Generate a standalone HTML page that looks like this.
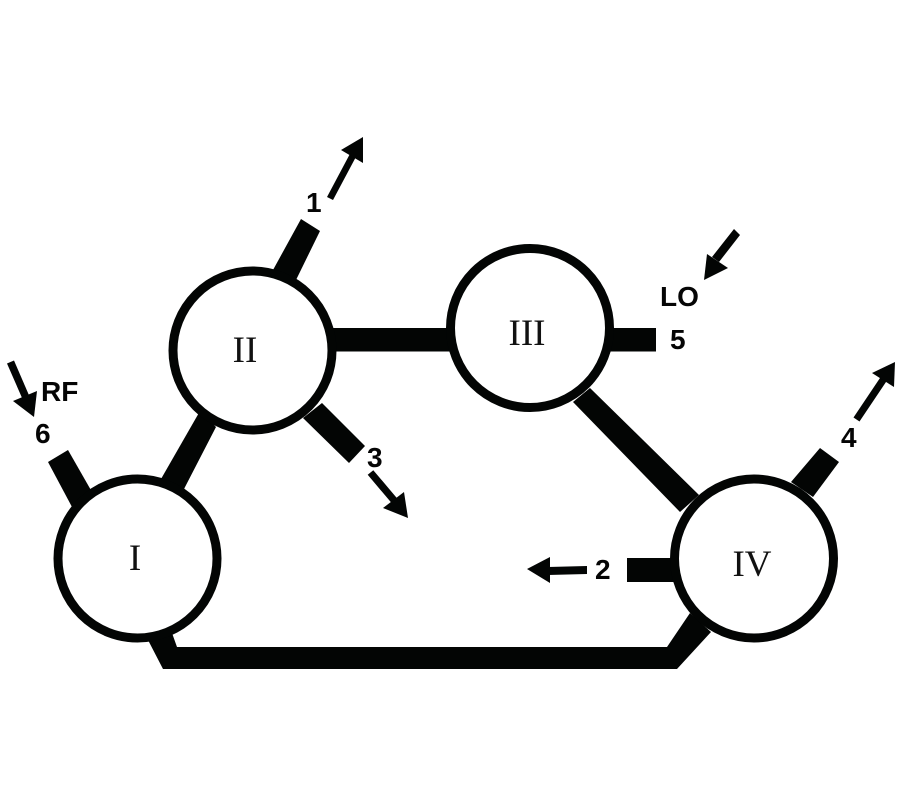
<!DOCTYPE html>
<html>
<head>
<meta charset="utf-8">
<style>
html,body{margin:0;padding:0;background:#fff;width:900px;height:800px;overflow:hidden}
svg{display:block}
.s{font-family:"Liberation Sans",sans-serif;font-weight:bold;font-size:28px;fill:#050505}
.r{font-family:"Liberation Serif",serif;font-size:37px;fill:#111;text-anchor:middle}
</style>
</head>
<body>
<svg width="900" height="800" viewBox="0 0 900 800" xmlns="http://www.w3.org/2000/svg">
<g fill="#030504">
<polygon points="301,219 320,231 296,280 273,270"/>
<rect x="330" y="328" width="125" height="23.5"/>
<rect x="600" y="328" width="56" height="23.5"/>
<polygon points="322,403 365,446 349,463 303,418"/>
<polygon points="200,411 216,427 184,489 161,479"/>
<polygon points="48,462 68,450 92,492 72,507"/>
<polygon points="573,402 590,388 699,495 680,512"/>
<polygon points="820,448 839,462 813,497 791,482"/>
<rect x="627" y="558" width="50" height="24"/>
<polygon points="148,640 163,669 677,669 711,632 690,613 667,647 177,647 172,633"/>
</g>
<g fill="#fff" stroke="#030504" stroke-width="9">
<circle cx="252.5" cy="350.5" r="79.5"/>
<circle cx="530" cy="328" r="79.5"/>
<circle cx="137.5" cy="558.5" r="79.5"/>
<circle cx="754" cy="558.5" r="79.5"/>
</g>
<text class="r" x="245" y="362">II</text>
<text class="r" x="527" y="345">III</text>
<text class="r" x="135" y="570">I</text>
<text class="r" x="752" y="576">IV</text>
<g fill="#030504">
<polygon points="327,197 333,200 358,153 352,150"/>
<polygon points="363,137 341,150 363,163"/>
<polygon points="734,229 740,235 719,262 712,257"/>
<polygon points="704,280 707,254 728,268"/>
<polygon points="853.5,417.5 859.5,421.5 888,379 882,375"/>
<polygon points="895,362 872,373 894,387"/>
<polygon points="367.7,474.8 373.3,470.2 400.8,502.7 395.2,507.3"/>
<polygon points="408,518 383,508 404,492"/>
<polygon points="587,566 587,574 548,575 548,567"/>
<polygon points="527,569 550,557 550,583"/>
<polygon points="7,363.5 14,360.5 30.4,398.5 23.6,401.5"/>
<polygon points="34,417 13,401 37,391"/>
</g>
<text class="s" x="306" y="212">1</text>
<text class="s" x="595" y="579">2</text>
<text class="s" x="367" y="467">3</text>
<text class="s" x="841" y="447">4</text>
<text class="s" x="670" y="349">5</text>
<text class="s" x="35" y="443">6</text>
<text class="s" x="41" y="401">RF</text>
<text class="s" x="660" y="306">LO</text>
</svg>
</body>
</html>
